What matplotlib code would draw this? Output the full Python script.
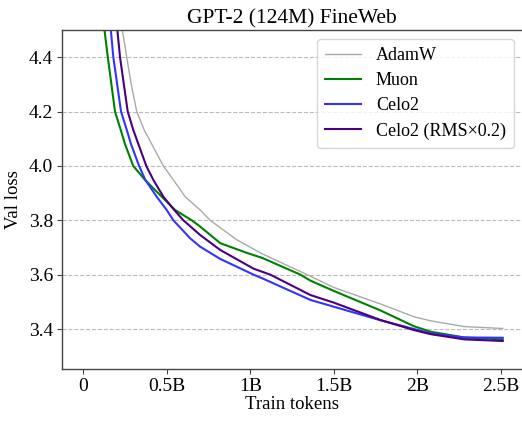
import matplotlib
matplotlib.use("Agg")
import matplotlib.pyplot as plt

plt.rcParams['font.family'] = ['Liberation Serif', 'DejaVu Serif']

# Data (x in billions of tokens, y = val loss)
adamw_x = [0.22, 0.235, 0.261, 0.288, 0.321, 0.365, 0.411, 0.48, 0.54, 0.61, 0.70, 0.76, 0.92, 1.07, 1.34, 1.50, 1.78, 1.98, 2.08, 2.28, 2.51]
adamw_y = [4.58, 4.50, 4.40, 4.30, 4.20, 4.133, 4.08, 4.00, 3.949, 3.887, 3.838, 3.80, 3.728, 3.677, 3.60, 3.553, 3.492, 3.445, 3.430, 3.409, 3.402]

muon_x = [0.115, 0.128, 0.148, 0.191, 0.225, 0.251, 0.30, 0.37, 0.47, 0.55, 0.65, 0.70, 0.82, 0.98, 1.07, 1.30, 1.36, 1.50, 1.78, 1.98, 2.08, 2.28, 2.51]
muon_y = [4.58, 4.50, 4.40, 4.20, 4.133, 4.08, 4.00, 3.949, 3.887, 3.838, 3.80, 3.777, 3.716, 3.68, 3.662, 3.60, 3.578, 3.54, 3.468, 3.41, 3.39, 3.369, 3.362]

celo2_x = [0.155, 0.166, 0.181, 0.227, 0.261, 0.287, 0.335, 0.372, 0.44, 0.50, 0.54, 0.64, 0.70, 0.82, 1.02, 1.07, 1.36, 1.50, 1.78, 1.98, 2.08, 2.28, 2.51]
celo2_y = [4.58, 4.50, 4.40, 4.20, 4.133, 4.08, 4.00, 3.949, 3.887, 3.838, 3.80, 3.734, 3.703, 3.658, 3.60, 3.587, 3.507, 3.482, 3.432, 3.40, 3.384, 3.369, 3.368]

celo2rms_x = [0.19, 0.205, 0.221, 0.267, 0.30, 0.331, 0.378, 0.42, 0.48, 0.545, 0.60, 0.70, 0.82, 1.02, 1.12, 1.36, 1.50, 1.78, 1.98, 2.08, 2.28, 2.51]
celo2rms_y = [4.58, 4.50, 4.40, 4.20, 4.133, 4.08, 4.00, 3.949, 3.887, 3.838, 3.80, 3.746, 3.691, 3.622, 3.60, 3.525, 3.497, 3.433, 3.396, 3.381, 3.362, 3.356]

xticks = [0, 0.5, 1.0, 1.5, 2.0, 2.5]
xticklabels = ['0', '0.5B', '1B', '1.5B', '2B', '2.5B']
yticks = [3.4, 3.6, 3.8, 4.0, 4.2, 4.4]

fig = plt.figure(figsize=(5.22, 4.23), dpi=100)
ax = fig.add_axes([62/522, 1 - 369/423, 1 - 62/522, (369 - 30)/423])

ax.plot(adamw_x, adamw_y, color='#aaaaaa', lw=1.0, label='AdamW')
ax.plot(muon_x, muon_y, color='#008000', lw=1.5, label='Muon')
ax.plot(celo2_x, celo2_y, color='#3333ff', lw=1.5, label='Celo2')
ax.plot(celo2rms_x, celo2rms_y, color='#4b0082', lw=1.5, label='Celo2 (RMS×0.2)')

ax.set_xlim(-0.126, 2.625)
ax.set_ylim(3.253, 4.5)
ax.set_xticks(xticks)
ax.set_xticklabels(xticklabels)
ax.set_yticks(yticks)
ax.set_yticklabels([f'{v:.1f}' for v in yticks])
ax.tick_params(labelsize=14, color='#444444', pad=3)
ax.yaxis.grid(True, linestyle='--', color='#bbbbbb', lw=0.8)
ax.set_axisbelow(True)
for s in ['left', 'bottom', 'top']:
    ax.spines[s].set_color('#444444')
    ax.spines[s].set_linewidth(1.0)
ax.spines['right'].set_visible(False)

ax.set_title('GPT-2 (124M) FineWeb', fontsize=15.5, pad=5)
ax.set_xlabel('Train tokens', fontsize=13.5, labelpad=1)
ax.set_ylabel('Val loss', fontsize=13.5, labelpad=5)
ax.legend(loc='upper right', bbox_to_anchor=(0.9826, 0.9735), borderaxespad=0,
          fontsize=13, frameon=True, handlelength=2.0, borderpad=0.45,
          labelspacing=0.45, handletextpad=0.8)

fig.savefig('out.png', dpi=100)
